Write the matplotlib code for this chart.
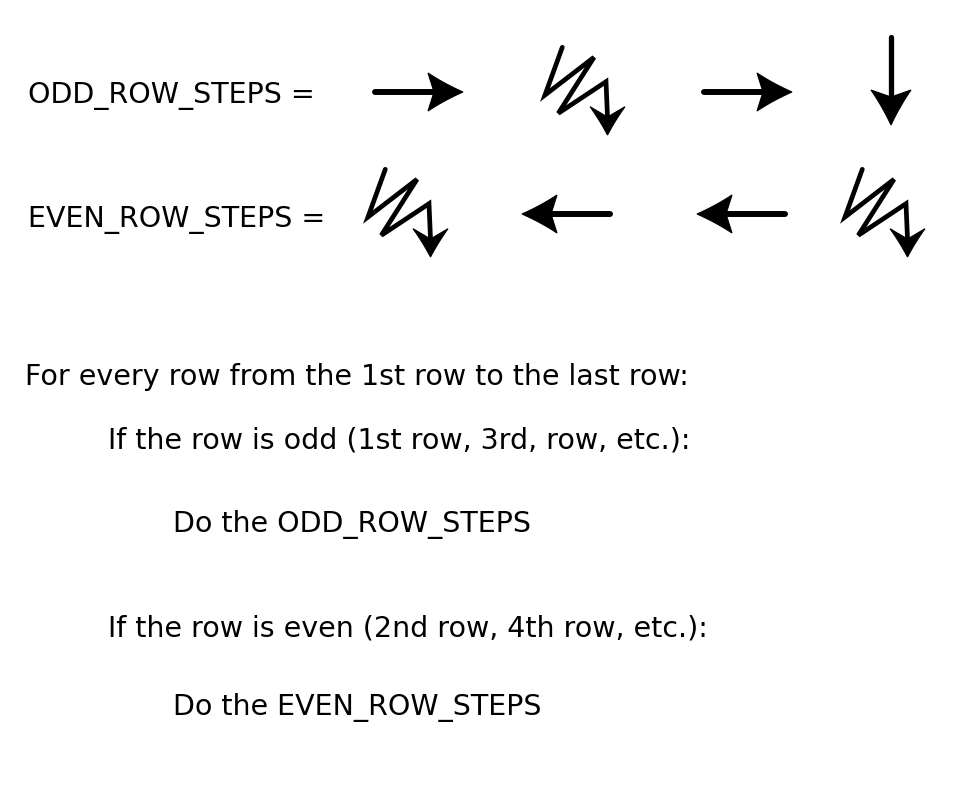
import matplotlib
matplotlib.use("Agg")
import matplotlib.pyplot as plt
import numpy as np
from matplotlib.patches import Polygon

# which step goes in which slot, per row
ODD_ROW_STEPS = ["right", "zigzag", "right", "down"]
EVEN_ROW_STEPS = ["zigzag", "left", "left", "zigzag"]
odd_slot_x = [419, 585, 748, 891]
even_slot_x = [408, 566, 741, 885]
row_y = [92, 214]

# text lines: (x, baseline, string)
text_x = [28, 28, 25, 108, 173, 108, 173]
text_base = [103, 226.5, 385, 448, 532, 637, 715]
text_str = [
    "ODD_ROW_STEPS =",
    "EVEN_ROW_STEPS =",
    "For every row from the 1st row to the last row:",
    "If the row is odd (1st row, 3rd, row, etc.):",
    "Do the ODD_ROW_STEPS",
    "If the row is even (2nd row, 4th row, etc.):",
    "Do the EVEN_ROW_STEPS",
]

fig = plt.figure(figsize=(9.6, 7.94), dpi=100)
ax = fig.add_axes([0, 0, 1, 1])
ax.set_xlim(0, 960)
ax.set_ylim(794, 0)
ax.axis("off")


def head(ax, tip, barb1, notch, barb2):
    # arrow head with slightly concave sides
    def curve(p0, p1, bend):
        p0, p1 = np.array(p0, float), np.array(p1, float)
        mid = (p0 + p1) / 2 + bend
        t = np.linspace(0, 1, 12)[:, None]
        return (1 - t) ** 2 * p0 + 2 * (1 - t) * t * mid + t ** 2 * p1
    n = np.array(notch, float)
    c1 = (n - (np.array(tip) + np.array(barb1)) / 2) * 0.12
    c2 = (n - (np.array(tip) + np.array(barb2)) / 2) * 0.12
    pts = np.vstack([curve(tip, barb1, c1), [notch], curve(barb2, tip, c2)])
    ax.add_patch(Polygon(pts, closed=True, color="black", lw=0.8))


def horiz(ax, cx, cy, d):
    # d = 1 for right, -1 for left
    ax.plot([cx - 44 * d, cx + 14 * d], [cy, cy], color="black", lw=4.3,
            solid_capstyle="round")
    head(ax, (cx + 44 * d, cy), (cx + 9 * d, cy - 19), (cx + 15 * d, cy),
         (cx + 9 * d, cy + 19))


def down(ax, cx, cy):
    ax.plot([cx, cx], [cy - 44, cy + 16], color="black", lw=3.8,
            solid_capstyle="round")
    head(ax, (cx, cy + 44), (cx - 20, cy + 9), (cx, cy + 16), (cx + 20, cy + 9))


def zigzag(ax, cx, cy):
    zx = np.array([-22.7, -40, 9, -26.7, 21, 22.5]) + cx
    zy = np.array([-43.7, 4, -33.7, 22.3, -9.3, 26]) + cy
    ax.plot(zx, zy, color="black", lw=3.4, solid_joinstyle="miter",
            solid_capstyle="round")
    head(ax, (cx + 22.5, cy + 44), (cx + 5, cy + 15.7), (cx + 22.5, cy + 26),
         (cx + 40, cy + 15.7))


def draw_row(ax, steps, xs, y):
    for kind, x in zip(steps, xs):
        if kind == "right":
            horiz(ax, x, y, 1)
        elif kind == "left":
            horiz(ax, x, y, -1)
        elif kind == "down":
            down(ax, x, y - 11)
        else:
            zigzag(ax, x, y - 1)


draw_row(ax, ODD_ROW_STEPS, odd_slot_x, row_y[0])
draw_row(ax, EVEN_ROW_STEPS, even_slot_x, row_y[1])

for x, b, s in zip(text_x, text_base, text_str):
    ax.text(x, b, s, fontsize=20.5, family="DejaVu Sans", va="baseline",
            ha="left", color="black")

fig.savefig("out.png", dpi=100)
